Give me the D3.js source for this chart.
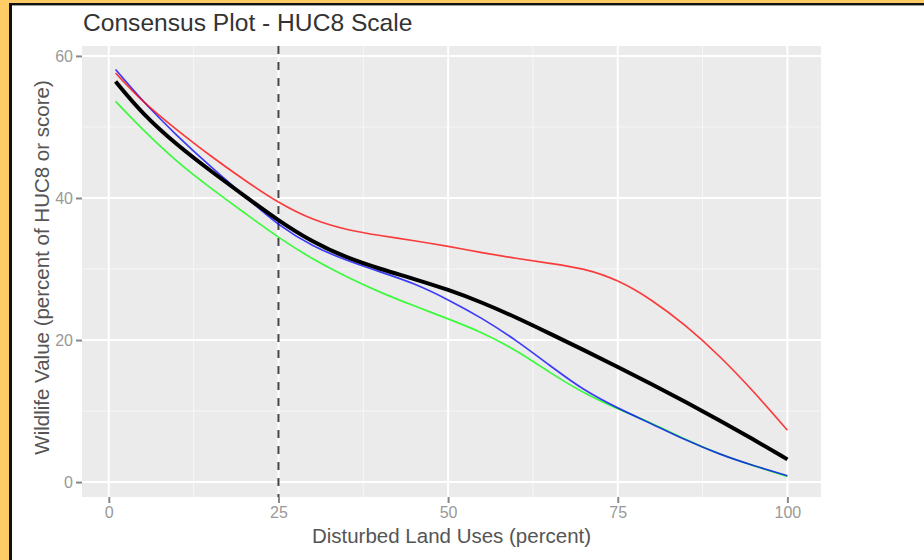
<!DOCTYPE html>
<html lang="en">
<head>
  <meta charset="UTF-8">
  <title>Consensus Plot - HUC8 Scale</title>
  <script src="https://d3js.org/d3.v7.min.js"></script>
  <style>
    body {
      margin: 0;
      padding: 0;
      background: #fff;
    }
    svg {
      display: block;
      font-family: "Liberation Sans", Arial, sans-serif;
    }
  </style>
</head>
<body>
  <div id="chart-container"></div>

  <script>
    // Data (x = disturbed land use %, y = wildlife value)
    const xValues = [1, 5, 10, 15, 20, 25, 30, 35, 40, 45, 50, 55, 60, 65, 70, 75, 80, 85, 90, 95, 100];
    const redValues   = [57.6, 53.5, 49.6, 45.9, 42.5, 39.3, 36.9, 35.5, 34.7, 34.0, 33.2, 32.3, 31.5, 30.8, 30.1, 28.5, 25.7, 22.1, 17.8, 12.8, 7.3];
    const blueValues  = [58.1, 53.6, 48.8, 44.4, 40.3, 36.1, 33.2, 31.2, 29.6, 28.0, 25.7, 23.1, 20.0, 16.4, 12.9, 10.4, 8.2, 5.9, 3.9, 2.3, 0.9];
    const greenValues = [53.6, 49.6, 45.1, 41.4, 37.9, 34.4, 31.4, 28.9, 26.7, 24.8, 23.0, 21.1, 18.6, 15.4, 12.5, 10.3, 8.3, 6.0, 3.9, 2.3, 0.8];
    const blackValues = [56.4, 51.8, 47.5, 43.8, 40.3, 36.8, 33.8, 31.6, 30.0, 28.6, 27.1, 25.3, 23.2, 20.9, 18.6, 16.2, 13.8, 11.3, 8.7, 6.0, 3.2];
    const cutoff = 25;
    const xTicks = [0, 25, 50, 75, 100];
    const yTicks = [0, 20, 40, 60];

    const width = 924;
    const height = 560;
    const panel = { left: 82, right: 821, top: 46, bottom: 497 };

    const svg = d3.create("svg")
      .attr("width", width)
      .attr("height", height);

    // white page with the orange / black frame on the top-left
    svg.append("rect").attr("width", width).attr("height", height).attr("fill", "#fff");
    svg.append("rect").attr("x", 0).attr("y", 0).attr("width", 9).attr("height", height).attr("fill", "#FFCC66");
    svg.append("rect").attr("x", 0).attr("y", 0).attr("width", width).attr("height", 3).attr("fill", "#FFCC66");
    svg.append("rect").attr("x", 9).attr("y", 3).attr("width", 3).attr("height", height - 3).attr("fill", "#111");
    svg.append("rect").attr("x", 9).attr("y", 3).attr("width", width - 9).attr("height", 2.4).attr("fill", "#111");

    // ggplot-style expanded scales
    const x = d3.scaleLinear().domain([-3.95, 104.95]).range([panel.left, panel.right]);
    const y = d3.scaleLinear().domain([-2.1, 61.4]).range([panel.bottom, panel.top]);

    svg.append("rect")
      .attr("x", panel.left)
      .attr("y", panel.top)
      .attr("width", panel.right - panel.left)
      .attr("height", panel.bottom - panel.top)
      .attr("fill", "#EBEBEB");

    const grid = svg.append("g").attr("stroke", "#fff").attr("fill", "none");

    // minor grid
    grid.selectAll(".xminor")
      .data(d3.range(-12.5, 105, 25).filter(v => v > -3.95))
      .join("line")
      .attr("x1", d => x(d)).attr("x2", d => x(d))
      .attr("y1", panel.top).attr("y2", panel.bottom)
      .attr("stroke-width", 1).attr("stroke-opacity", 0.6);
    grid.selectAll(".yminor")
      .data([10, 30, 50])
      .join("line")
      .attr("x1", panel.left).attr("x2", panel.right)
      .attr("y1", d => y(d)).attr("y2", d => y(d))
      .attr("stroke-width", 1).attr("stroke-opacity", 0.6);

    // major grid
    svg.append("g").attr("stroke", "#fff")
      .selectAll("line")
      .data(xTicks)
      .join("line")
      .attr("x1", d => x(d)).attr("x2", d => x(d))
      .attr("y1", panel.top).attr("y2", panel.bottom)
      .attr("stroke-width", 2);
    svg.append("g").attr("stroke", "#fff")
      .selectAll("line")
      .data(yTicks)
      .join("line")
      .attr("x1", panel.left).attr("x2", panel.right)
      .attr("y1", d => y(d)).attr("y2", d => y(d))
      .attr("stroke-width", 2);

    // dashed cutoff line
    svg.append("line")
      .attr("x1", x(cutoff)).attr("x2", x(cutoff))
      .attr("y1", panel.top).attr("y2", panel.bottom)
      .attr("stroke", "#444")
      .attr("stroke-width", 2)
      .attr("stroke-dasharray", "8,8");

    // axes
    const xAxis = svg.append("g")
      .attr("transform", `translate(0,${panel.bottom})`)
      .call(d3.axisBottom(x).tickValues(xTicks).tickSize(6).tickPadding(4));
    const yAxis = svg.append("g")
      .attr("transform", `translate(${panel.left},0)`)
      .call(d3.axisLeft(y).tickValues(yTicks).tickSize(6).tickPadding(3));

    [xAxis, yAxis].forEach(ax => {
      ax.select(".domain").remove();
      ax.selectAll(".tick line").attr("stroke", "#888").attr("stroke-width", 2);
      ax.selectAll(".tick text")
        .attr("fill", "#999")
        .style("font-size", "16px")
        .style("font-family", "'Liberation Sans', Arial, sans-serif");
    });

    // smoothed curves
    const line = d3.line()
      .x((d, i) => x(xValues[i]))
      .y(d => y(d))
      .curve(d3.curveBasis);

    const series = [
      { values: greenValues, color: "#00FF00", w: 1.7 },
      { values: blueValues, color: "#0000FF", w: 1.7 },
      { values: redValues, color: "#FF0000", w: 1.7 },
      { values: blackValues, color: "#000", w: 4 }
    ];

    svg.append("g")
      .attr("fill", "none")
      .selectAll("path")
      .data(series)
      .join("path")
      .attr("stroke", d => d.color)
      .attr("stroke-width", d => d.w)
      .attr("stroke-opacity", d => d.w > 2 ? 1 : 0.75)
      .attr("d", d => line(d.values));

    // titles
    svg.append("text")
      .attr("x", 83)
      .attr("y", 31)
      .attr("fill", "#333")
      .style("font-size", "24.6px")
      .text("Consensus Plot - HUC8 Scale");

    svg.append("text")
      .attr("x", (panel.left + panel.right) / 2)
      .attr("y", 543)
      .attr("text-anchor", "middle")
      .attr("fill", "#555")
      .style("font-size", "20.5px")
      .text("Disturbed Land Uses (percent)");

    svg.append("text")
      .attr("transform", `translate(49,${(panel.top + panel.bottom) / 2 - 4}) rotate(-90)`)
      .attr("text-anchor", "middle")
      .attr("fill", "#555")
      .style("font-size", "20.5px")
      .text("Wildlife Value (percent of HUC8 or score)");

    document.getElementById("chart-container").appendChild(svg.node());
  </script>
</body>
</html>
